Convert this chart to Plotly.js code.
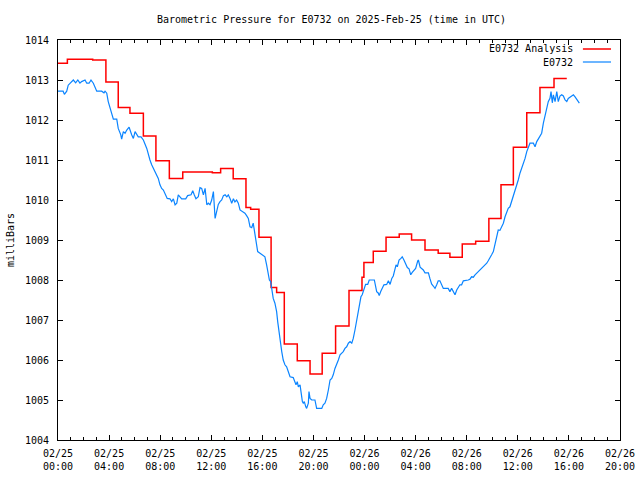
<!DOCTYPE html>
<html>
<head>
<meta charset="utf-8">
<script src="https://cdn.plot.ly/plotly-3.0.1.min.js"></script>
<style>html,body{margin:0;padding:0;background:#fff;}#chart{width:640px;height:480px;}</style>
</head>
<body>
<div id="chart"></div>
<script>
// Minutes after 2025-02-25 00:00 UTC
const obsMinutes = [0,24,30,41,48,56,72,83,93,103,111,127,135,146,155,166,174,182,205,216,221,229,236,244,252,260,276,283,295,299,307,315,323,334,346,354,362,370,377,390,401,417,424,432,440,448,456,464,471,479,487,495,503,513,526,534,542,550,558,565,573,581,600,609,625,633,640,648,659,667,675,683,691,699,706,714,722,730,738,746,753,761,769,777,785,793,800,808,816,824,831,839,847,855,870,878,886,894,902,910,917,921,929,933,938,949,957,972,980,988,993,999,1004,1011,1019,1027,1032,1038,1043,1051,1058,1066,1074,1082,1090,1105,1113,1118,1124,1129,1137,1142,1148,1152,1157,1164,1168,1176,1179,1184,1192,1207,1215,1239,1246,1254,1262,1270,1278,1286,1293,1301,1309,1317,1325,1333,1340,1348,1356,1364,1372,1380,1387,1395,1403,1411,1419,1423,1429,1437,1445,1455,1462,1486,1492,1497,1505,1509,1516,1523,1531,1544,1552,1560,1568,1575,1583,1588,1594,1602,1611,1617,1625,1633,1641,1649,1657,1664,1672,1680,1690,1693,1701,1709,1716,1724,1740,1747,1755,1763,1771,1779,1786,1794,1802,1810,1833,1841,1849,1857,1865,1873,1880,1888,1896,1904,1927,1935,1943,1951,1959,1967,1974,1982,1990,1998,2006,2014,2021,2029,2037,2045,2050,2056,2061,2068,2076,2084,2092,2100,2108,2115,2123,2131,2139,2147,2155,2162,2170,2178,2186,2194,2202,2209,2217,2233,2241,2249,2256,2264,2272,2280,2288,2296,2303,2311,2316,2322,2327,2335,2343,2350,2358,2366,2374,2382,2390,2397,2405,2413,2421,2429,2437,2444,2449];
const obsPressure = [1012.72,1012.72,1012.64,1012.72,1012.87,1012.92,1013.00,1012.93,1013.00,1012.92,1012.96,1013.00,1012.92,1012.92,1013.00,1012.92,1012.83,1012.72,1012.72,1012.68,1012.72,1012.67,1012.46,1012.33,1012.17,1012.02,1012.02,1011.79,1011.63,1011.52,1011.71,1011.67,1011.75,1011.82,1011.63,1011.54,1011.71,1011.63,1011.58,1011.58,1011.50,1011.29,1011.13,1011.00,1010.88,1010.79,1010.71,1010.63,1010.54,1010.38,1010.29,1010.25,1010.17,1010.04,1010.03,1009.96,1010.03,1009.88,1009.92,1010.13,1010.08,1010.03,1010.03,1010.11,1010.13,1010.23,1010.13,1010.03,1010.08,1010.31,1010.29,1010.13,1010.29,1009.88,1009.92,1009.88,1010.00,1010.21,1009.54,1009.75,1009.89,1009.96,1010.00,1010.11,1010.13,1010.08,1010.13,1010.04,1009.92,1010.03,1009.95,1010.00,1009.92,1009.75,1009.71,1009.67,1009.61,1009.54,1009.33,1009.31,1009.42,1009.29,1009.04,1008.88,1008.71,1008.67,1008.63,1008.58,1008.38,1008.13,1008.00,1007.96,1007.79,1007.54,1007.42,1007.21,1006.96,1006.71,1006.46,1006.21,1006.00,1005.88,1005.83,1005.71,1005.58,1005.56,1005.46,1005.38,1005.46,1005.33,1005.38,1005.13,1004.96,1004.92,1004.96,1004.83,1004.79,1004.92,1005.21,1005.04,1005.00,1005.00,1004.79,1004.79,1004.88,1004.92,1005.04,1005.25,1005.50,1005.54,1005.63,1005.79,1005.88,1006.00,1006.13,1006.17,1006.21,1006.29,1006.33,1006.42,1006.46,1006.42,1006.54,1006.75,1006.96,1007.17,1007.46,1007.58,1007.63,1007.79,1007.89,1007.89,1008.00,1008.00,1007.88,1007.71,1007.67,1007.61,1007.71,1007.79,1007.88,1007.89,1007.98,1007.89,1008.04,1008.10,1008.29,1008.38,1008.33,1008.50,1008.54,1008.58,1008.50,1008.42,1008.31,1008.28,1008.13,1008.19,1008.23,1008.29,1008.48,1008.50,1008.32,1008.29,1008.25,1008.18,1008.18,1008.04,1007.90,1007.85,1007.79,1007.88,1007.98,1007.98,1007.88,1007.79,1007.79,1007.71,1007.79,1007.71,1007.63,1007.75,1007.83,1007.88,1007.88,1007.98,1008.00,1008.02,1008.08,1008.07,1008.13,1008.17,1008.21,1008.25,1008.29,1008.32,1008.38,1008.42,1008.48,1008.54,1008.63,1008.71,1008.83,1009.00,1009.13,1009.25,1009.24,1009.33,1009.42,1009.58,1009.71,1009.79,1009.83,1009.96,1010.13,1010.21,1010.33,1010.50,1010.67,1010.79,1010.88,1011.04,1011.21,1011.33,1011.42,1011.42,1011.33,1011.46,1011.52,1011.58,1011.67,1011.92,1012.13,1012.33,1012.46,1012.54,1012.71,1012.43,1012.63,1012.46,1012.71,1012.46,1012.60,1012.63,1012.60,1012.50,1012.46,1012.54,1012.57,1012.60,1012.63,1012.58,1012.52,1012.46,1012.42];

const anaMinutes = [0,44,163,225,283,338,401,460,523,586,725,764,823,883,905,944,1001,1027,1063,1124,1184,1241,1304,1367,1428,1437,1481,1541,1603,1661,1724,1786,1841,1899,1962,2024,2081,2139,2202,2264,2330,2390];
const anaPressure = [1013.42,1013.52,1013.50,1012.95,1012.31,1012.17,1011.60,1010.98,1010.54,1010.70,1010.68,1010.79,1010.53,1009.81,1009.77,1009.07,1007.81,1007.69,1006.40,1005.98,1005.65,1006.17,1006.85,1007.74,1008.07,1008.44,1008.72,1009.07,1009.15,1009.00,1008.75,1008.67,1008.57,1008.90,1008.97,1009.54,1010.38,1011.32,1012.18,1012.81,1013.04,1013.04];

const seriesNames = ['E0732 Analysis', 'E0732'];
const titleText = 'Barometric Pressure for E0732 on 2025-Feb-25 (time in UTC)';
const yTitle = 'milliBars';

const base = Date.UTC(2025, 1, 25, 0, 0);
function toStamp(m) {
  return new Date(base + m * 60000).toISOString().slice(0, 16).replace('T', ' ');
}

const FONT = 'DejaVu Sans Mono, Liberation Mono, monospace';
const RED = '#ff0000';
const BLUE = '#0a84ff';

const traces = [
  {
    x: anaMinutes.map(toStamp), y: anaPressure, name: seriesNames[0],
    type: 'scatter', mode: 'lines', line: {color: RED, width: 1.5, shape: 'hv'},
    showlegend: false, hoverinfo: 'skip'
  },
  {
    x: obsMinutes.map(toStamp), y: obsPressure, name: seriesNames[1],
    type: 'scatter', mode: 'lines', line: {color: BLUE, width: 1.2},
    showlegend: false, hoverinfo: 'skip'
  }
];

const axisCommon = {
  showgrid: false, zeroline: false, showline: true, linecolor: '#000', linewidth: 1,
  mirror: 'allticks', ticks: 'inside', tickcolor: '#000', tickwidth: 1,
  tickfont: {family: FONT, size: 10, color: '#000'}
};

const layout = {
  width: 640, height: 480,
  margin: {l: 58, r: 20, t: 40, b: 40, pad: 0},
  paper_bgcolor: '#fff', plot_bgcolor: '#fff',
  font: {family: FONT, size: 10, color: '#000'},
  title: {text: titleText, font: {family: FONT, size: 10, color: '#000'},
          xref: 'container', x: 0.518, xanchor: 'center', yref: 'container', y: 0.96, yanchor: 'middle'},
  xaxis: Object.assign({}, axisCommon, {
    type: 'date',
    range: [toStamp(0), toStamp(44 * 60)],
    dtick: 4 * 3600000, tick0: toStamp(0),
    tickformat: '%m/%d<br>%H:%M',
    ticklen: 5,
    minor: {dtick: 3600000, ticks: 'inside', ticklen: 3, tickcolor: '#000', showgrid: false},
    ticklabelstandoff: 4
  }),
  yaxis: Object.assign({}, axisCommon, {
    range: [1004, 1014], dtick: 1, tick0: 1004, ticklen: 5,
    ticklabelstandoff: 6,
    title: {text: yTitle, font: {family: FONT, size: 10, color: '#000'}, standoff: 8}
  }),
  annotations: [
    {xref: 'paper', yref: 'paper', x: 0.92, y: 1 - 9 / 400, xanchor: 'right', yanchor: 'middle',
     text: seriesNames[0], showarrow: false, font: {family: FONT, size: 10, color: '#000'}},
    {xref: 'paper', yref: 'paper', x: 0.92, y: 1 - 22 / 400, xanchor: 'right', yanchor: 'middle',
     text: seriesNames[1], showarrow: false, font: {family: FONT, size: 10, color: '#000'}}
  ],
  shapes: [
    {type: 'line', xref: 'paper', yref: 'paper', x0: 0.934, x1: 0.984, y0: 1 - 9 / 400, y1: 1 - 9 / 400,
     line: {color: RED, width: 1.5}},
    {type: 'line', xref: 'paper', yref: 'paper', x0: 0.934, x1: 0.984, y0: 1 - 22 / 400, y1: 1 - 22 / 400,
     line: {color: BLUE, width: 1.2}}
  ]
};

Plotly.newPlot('chart', traces, layout, {staticPlot: true, displayModeBar: false});
</script>
</body>
</html>
